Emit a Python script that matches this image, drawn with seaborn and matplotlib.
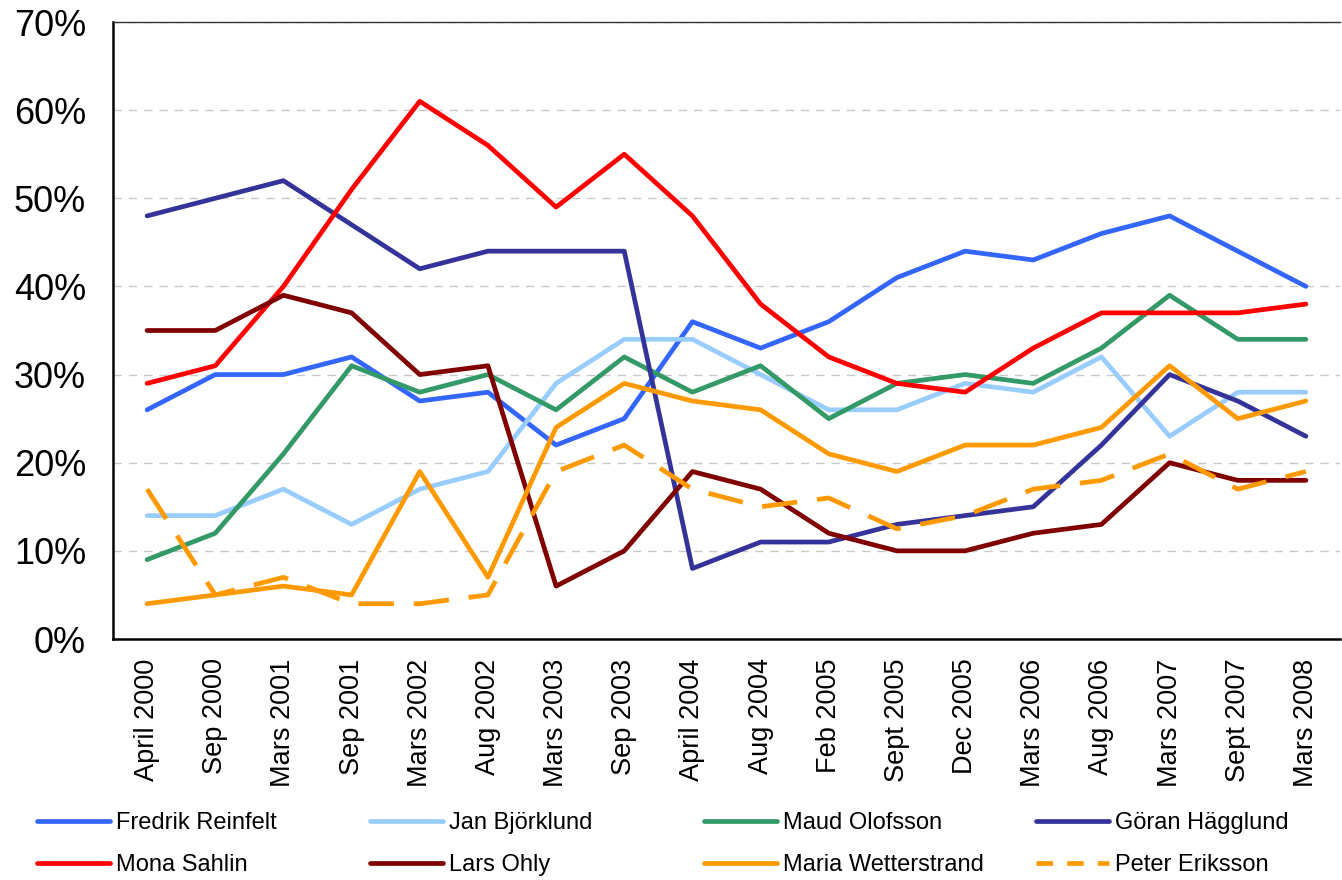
import numpy as np
import pandas as pd
import seaborn as sns
import matplotlib.pyplot as plt
from matplotlib.ticker import PercentFormatter, FixedLocator
from matplotlib.lines import Line2D

# Survey dates (x categories)
dates = ["April 2000", "Sep 2000", "Mars 2001", "Sep 2001", "Mars 2002", "Aug 2002",
         "Mars 2003", "Sep 2003", "April 2004", "Aug 2004", "Feb 2005", "Sept 2005",
         "Dec 2005", "Mars 2006", "Aug 2006", "Mars 2007", "Sept 2007", "Mars 2008"]

# Values in percent, one list per person
reinfelt    = [26, 30, 30, 32, 27, 28, 22, 25, 36, 33, 36, 41, 44, 43, 46, 48, 44, 40]
bjorklund   = [14, 14, 17, 13, 17, 19, 29, 34, 34, 30, 26, 26, 29, 28, 32, 23, 28, 28]
olofsson    = [9, 12, 21, 31, 28, 30, 26, 32, 28, 31, 25, 29, 30, 29, 33, 39, 34, 34]
hagglund    = [48, 50, 52, 47, 42, 44, 44, 44, 8, 11, 11, 13, 14, 15, 22, 30, 27, 23]
sahlin      = [29, 31, 40, 51, 61, 56, 49, 55, 48, 38, 32, 29, 28, 33, 37, 37, 37, 38]
ohly        = [35, 35, 39, 37, 30, 31, 6, 10, 19, 17, 12, 10, 10, 12, 13, 20, 18, 18]
wetterstrand = [4, 5, 6, 5, 19, 7, 24, 29, 27, 26, 21, 19, 22, 22, 24, 31, 25, 27]
eriksson    = [17, 5, 7, 4, 4, 5, 19, 22, 17, 15, 16, 12.5, 14, 17, 18, 21, 17, 19]

names = ["Fredrik Reinfelt", "Jan Björklund", "Maud Olofsson", "Göran Hägglund",
         "Mona Sahlin", "Lars Ohly", "Maria Wetterstrand", "Peter Eriksson"]
series = [reinfelt, bjorklund, olofsson, hagglund, sahlin, ohly, wetterstrand, eriksson]
colors = ["#3366FF", "#99CCFF", "#339966", "#333399",
          "#FF0000", "#800000", "#FF9900", "#FF9900"]

sns.set_style("white")
plt.rcParams['font.family'] = ['Liberation Sans', 'DejaVu Sans']
plt.rcParams['text.color'] = 'black'
plt.rcParams['xtick.color'] = 'black'
plt.rcParams['ytick.color'] = 'black'

fig = plt.figure(figsize=(13.42, 8.8), dpi=100)
ax = fig.add_axes([113 / 1342, 1 - 639 / 880, (1340 - 113) / 1342, (639 - 22) / 880])

LW = 3.4
xpos = np.arange(len(dates))
handles = []
for name, vals, col in zip(names, series, colors):
    sns.lineplot(x=xpos, y=vals, ax=ax, color=col, lw=LW, legend=False)
    line = ax.lines[-1]
    line.set_solid_capstyle("round")
    line.set_solid_joinstyle("round")
    if name == "Peter Eriksson":
        line.set_dashes((7.5, 4.2))
        h = Line2D([], [], color=col, lw=LW, dashes=(3.5, 3))
    else:
        h = Line2D([], [], color=col, lw=LW, solid_capstyle="round")
    handles.append(h)

# axes styling
ax.set_xlim(-0.5, len(dates) - 0.5)
ax.set_ylim(0, 70)
ax.set_yticks(np.arange(0, 71, 10))
ax.yaxis.set_major_formatter(PercentFormatter(decimals=0))
ax.grid(axis="y", color="#C8C8C8", linestyle=(0, (6, 5)), lw=1)
ax.set_axisbelow(True)

ax.set_xticks(xpos)
ax.set_xticklabels(dates, rotation=90, fontsize=19.5)
ax.xaxis.set_minor_locator(FixedLocator(np.arange(-0.5, len(dates), 1)))
ax.tick_params(axis="x", which="major", length=0, pad=14)
ax.tick_params(axis="x", which="minor", length=6, width=1.5, color="black", direction="out")
ax.tick_params(axis="y", labelsize=26, length=7.5, width=1.5, color="black", direction="out", pad=12)

for s in ["left", "bottom"]:
    ax.spines[s].set_color("black")
    ax.spines[s].set_linewidth(1.8)
ax.spines["top"].set_color("#333333")
ax.spines["top"].set_linewidth(1)
ax.spines["right"].set_visible(False)
ax.set_xlabel("")
ax.set_ylabel("")

# legend: 4 columns, 2 rows, filled row-wise
col_x = [37, 370, 704, 1036]
for i, x in enumerate(col_x):
    leg = fig.legend([handles[i], handles[i + 4]], [names[i], names[i + 4]],
                     loc="upper left", bbox_to_anchor=(x / 1342, 1 - 812 / 880),
                     frameon=False, fontsize=17, handlelength=3.1, handletextpad=0.25,
                     labelspacing=0.85, borderpad=0, borderaxespad=0)

fig.savefig("out.png", dpi=100)
